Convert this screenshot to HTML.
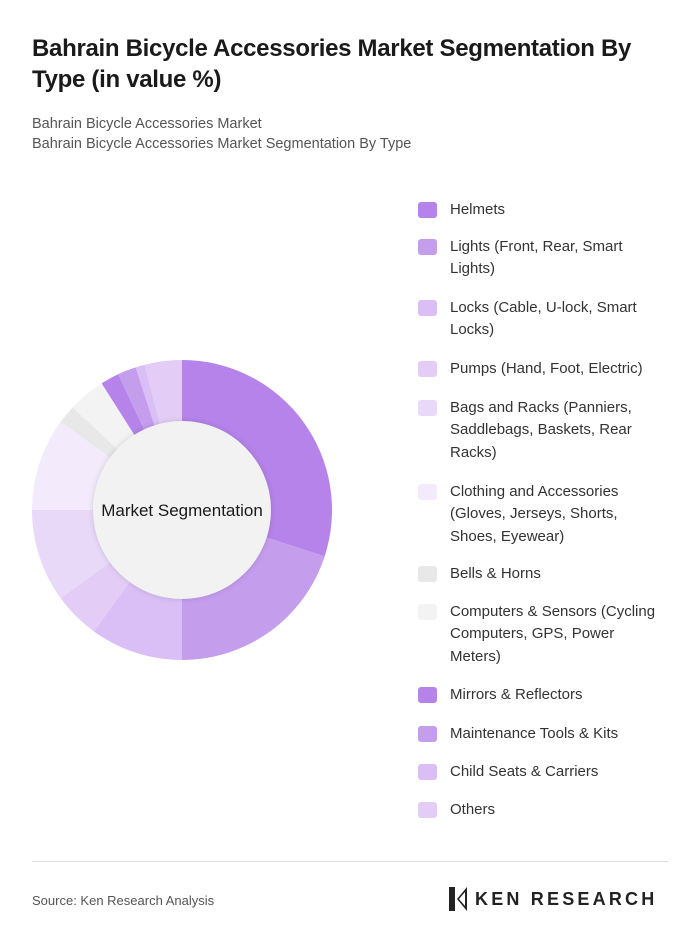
<!DOCTYPE html>
<html><head><meta charset="utf-8"><style>
body{margin:0;width:700px;height:947px;background:#fff;font-family:"Liberation Sans",sans-serif;position:relative;overflow:hidden}
.t{position:absolute;left:32px;top:33px;width:640px;font-size:24px;font-weight:bold;line-height:31px;color:#1a1a1a;letter-spacing:-0.3px}
.s{position:absolute;left:32px;top:114px;font-size:14.5px;line-height:20px;color:#555}
.lg{position:absolute;left:418px;font-size:15px;line-height:22.3px;color:#333}
.lg i{position:absolute;left:0;top:3px;width:19px;height:16px;border-radius:3px}
.lg span{display:block;margin-left:32px;width:210px}
</style></head><body>
<div class="t">Bahrain Bicycle Accessories Market Segmentation By Type (in value %)</div>
<div class="s">Bahrain Bicycle Accessories Market<br>Bahrain Bicycle Accessories Market Segmentation By Type</div>
<svg id="chart" width="700" height="947" style="position:absolute;left:0;top:0">
<defs><filter id="sh" x="-20%" y="-20%" width="140%" height="140%"><feDropShadow dx="0" dy="0" stdDeviation="3" flood-color="#000" flood-opacity="0.15"/></filter></defs>
<g id="slices"></g>
<circle cx="182" cy="510" r="89" fill="#f2f2f2" filter="url(#sh)"/>
<text x="182" y="516" text-anchor="middle" font-size="17" fill="#1a1a1a" font-family="Liberation Sans, sans-serif">Market Segmentation</text>
</svg>
<div id="legend"></div>
<div style="position:absolute;left:32px;top:861px;width:636px;height:1px;background:#ddd"></div>
<div style="position:absolute;left:32px;top:893px;font-size:13px;color:#555">Source: Ken Research Analysis</div>
<div style="position:absolute;left:447px;top:886px;height:26px;display:flex;align-items:center">
<svg width="22" height="26"><path d="M2 1h6v24H2z M10 13 L20 1 L20 25 Z" fill="#222"/><path d="M12 13 L18 6 L18 20Z" fill="#fff"/></svg>
<span style="margin-left:6px;font-size:18px;font-weight:bold;letter-spacing:3.2px;color:#222">KEN RESEARCH</span></div>
<script>
const categories=["Helmets","Lights (Front, Rear, Smart Lights)","Locks (Cable, U-lock, Smart Locks)","Pumps (Hand, Foot, Electric)","Bags and Racks (Panniers, Saddlebags, Baskets, Rear Racks)","Clothing and Accessories (Gloves, Jerseys, Shorts, Shoes, Eyewear)","Bells & Horns","Computers & Sensors (Cycling Computers, GPS, Power Meters)","Mirrors & Reflectors","Maintenance Tools & Kits","Child Seats & Carriers","Others"];
const values=[30,20,10,5,10,10,2,4,2,2,1,4];
const colors=["#b583ea","#c49ded","#d9bff5","#e3cdf7","#e9d9f9","#f3ebfb","#e8e8e8","#f3f3f3","#b583ea","#c49ded","#d9bff5","#e3cdf7"];
const legendTops=[199,236,297,358,397,481,563,601,684,723,761,799];
const cx=182,cy=510,R=150,r0=80;
const total=values.reduce((a,b)=>a+b,0);
const g=document.getElementById('slices');
function pt(a,rad){return [cx+rad*Math.sin(a),cy-rad*Math.cos(a)];}
let acc=0;
values.forEach((v,i)=>{
 const a0=acc/total*2*Math.PI;acc+=v;const a1=acc/total*2*Math.PI;
 const [x0,y0]=pt(a0,R),[x1,y1]=pt(a1,R),[x2,y2]=pt(a1,r0),[x3,y3]=pt(a0,r0);
 const lf=(a1-a0)>Math.PI?1:0;
 const p=document.createElementNS('http://www.w3.org/2000/svg','path');
 p.setAttribute('d',`M${x0} ${y0}A${R} ${R} 0 ${lf} 1 ${x1} ${y1}L${x2} ${y2}A${r0} ${r0} 0 ${lf} 0 ${x3} ${y3}Z`);
 p.setAttribute('fill',colors[i]);
 
 
 g.appendChild(p);
});
const L=document.getElementById('legend');
categories.forEach((c,i)=>{
 const d=document.createElement('div');d.className='lg';d.style.top=legendTops[i]+'px';
 
 
 d.innerHTML=`<i style="background:${colors[i]}"></i><span>${c}</span>`;
 L.appendChild(d);
});
</script>
</body></html>
